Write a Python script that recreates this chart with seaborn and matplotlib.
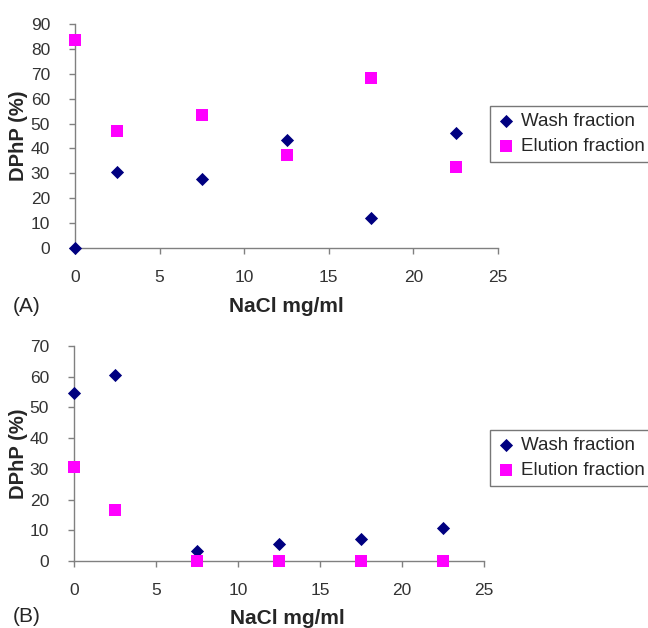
import pandas as pd
import seaborn as sns
import matplotlib.pyplot as plt

# NaCl concentrations (mg/ml)
nacl = [0, 2.5, 7.5, 12.5, 17.5, 22.5]

# Panel A
wash_a = [0, 30.6, 27.7, 43.5, 12.0, 46.4]
elution_a = [83.6, 46.9, 53.4, 37.2, 68.3, 32.5]

# Panel B
wash_b = [54.6, 60.6, 3.4, 5.5, 7.1, 10.7]
elution_b = [30.7, 16.5, 0, 0, 0, 0]

series = ['Wash fraction', 'Elution fraction']


def make_df(wash, elution):
    return pd.DataFrame({
        'NaCl': nacl * 2,
        'DPhP': wash + elution,
        'Fraction': [series[0]] * len(nacl) + [series[1]] * len(nacl),
    })


sns.set_style('white')
plt.rcParams['font.family'] = ['Liberation Sans', 'DejaVu Sans']

fig = plt.figure(figsize=(6.48, 6.28), dpi=100)
axA = fig.add_axes([75/648, 1-248/628, (498-75)/648, (248-24)/628])
axB = fig.add_axes([74/648, 1-561/628, (484-74)/648, (561-346)/628])

pal = {series[0]: '#000080', series[1]: '#FF00FF'}
marks = {series[0]: 'D', series[1]: 's'}
sizes = {series[0]: 45, series[1]: 80}

# axes, data, y max, legend top (px), xlabel x (axes frac)
panels = [(axA, make_df(wash_a, elution_a), 90, 106, 0.5),
          (axB, make_df(wash_b, elution_b), 70, 430, 0.52)]

for ax, df, ymax, legtop, xlx in panels:
    for name in series:
        sub = df[df['Fraction'] == name]
        sns.scatterplot(data=sub, x='NaCl', y='DPhP', color=pal[name],
                        marker=marks[name], s=sizes[name], linewidth=0,
                        label=name, ax=ax, clip_on=False, zorder=3)
    ax.set_xlim(0, 25)
    ax.set_ylim(0, ymax)
    ax.set_xticks(range(0, 26, 5))
    ax.set_yticks(range(0, ymax + 1, 10))
    for s in ['top', 'right']:
        ax.spines[s].set_visible(False)
    for s in ['left', 'bottom']:
        ax.spines[s].set_color('#808080')
        ax.spines[s].set_linewidth(1)
    ax.tick_params(direction='out', length=4, width=1, color='#808080',
                   labelsize=12.5, labelcolor='#333333', left=True, bottom=True)
    ax.tick_params(axis='x', pad=12)
    ax.tick_params(axis='y', pad=14)
    ax.set_xlabel('NaCl mg/ml', fontsize=15, fontweight='bold', va='center')
    ax.set_ylabel('DPhP (%)', fontsize=14.5, fontweight='bold', va='center')
    pos = ax.get_position()
    ax.xaxis.set_label_coords(xlx, -58 / (pos.height * 628))
    ax.yaxis.set_label_coords(-(pos.x0 * 648 - 19) / (pos.width * 648), 0.5)
    leg = ax.legend(loc='upper left', bbox_to_anchor=(490/648, 1-legtop/628),
                    bbox_transform=fig.transFigure, frameon=True, fancybox=False,
                    fontsize=13.5, handletextpad=0.3, borderpad=0.35,
                    labelspacing=0.45, handlelength=1.0, borderaxespad=0)
    leg.get_frame().set_edgecolor('#555555')
    leg.get_frame().set_linewidth(1)

fig.text(13/648, 1-306/628, '(A)', fontsize=15, va='center')
fig.text(13/648, 1-617/628, '(B)', fontsize=15, va='center')

plt.savefig('out.png', dpi=100)
